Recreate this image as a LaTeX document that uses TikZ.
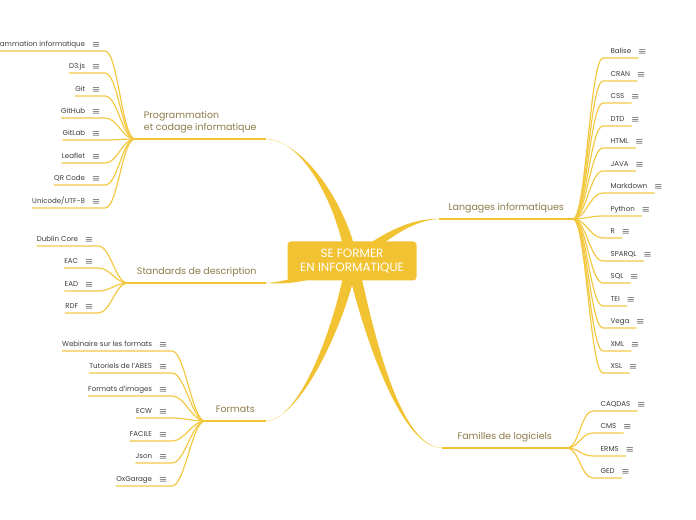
\documentclass[tikz,border=0pt]{standalone}
\usepackage{amsmath}
\usepackage{fontspec}
\setmainfont{Poppins}
\usepackage{xcolor}
\usetikzlibrary{positioning,backgrounds}
\definecolor{mapGold}{HTML}{F1C232}
\definecolor{mapTwig}{HTML}{F3C843}
\definecolor{mapBrown}{HTML}{8C7A48}
\definecolor{mapInk}{HTML}{3C3C3C}
\definecolor{mapIcon}{HTML}{333333}
\newcommand{\noteicon}{\textcolor{mapIcon}{\fontsize{5.5}{6}\selectfont$\boldsymbol{\equiv}$}}

\begin{document}
\begin{tikzpicture}[
  x=0.75pt,y=-0.75pt,
  root/.style={fill=mapGold,rounded corners=2.5pt,text=white,align=center,minimum width=96.75pt,minimum height=29.25pt,font=\fontsize{9}{10.5}\selectfont},
  topic/.style={text=mapBrown,align=left,inner xsep=0pt,inner ysep=4pt,text depth=2pt,font=\fontsize{7.1}{9.5}\selectfont},
  leaf/.style={text=mapInk,inner xsep=0pt,inner ysep=2pt,text height=4pt,text depth=1.2pt,font=\fontsize{5.3}{6}\selectfont},
  twig/.style={draw=mapTwig,line width=0.9pt},
  bough/.style={draw=mapGold,line width=1.2pt}
]
\useasboundingbox (0,0) rectangle (696,520);

\node[root] (root) at (352,261) {SE FORMER\\EN INFORMATIQUE};

% main topics
\node[topic,minimum width=97.5pt,anchor=south west] (prog) at (135,139) {Programmation\\et codage informatique};
\node[topic,minimum width=102.75pt,anchor=south west] (stds) at (128,283) {Standards de description};
\node[topic,minimum width=45pt,anchor=south west] (fmts) at (205,421) {Formats};
\node[topic,minimum width=99.75pt,anchor=south east] (lang) at (573,219) {Langages informatiques};
\node[topic,minimum width=93pt,anchor=south east] (fam) at (567,448) {Familles de logiciels};

\draw[bough] (prog.south west) -- (prog.south east);
\draw[bough] (stds.south west) -- (stds.south east);
\draw[bough] (fmts.south west) -- (fmts.south east);
\draw[bough] (lang.south west) -- (lang.south east);
\draw[bough] (fam.south west) -- (fam.south east);

\begin{scope}[on background layer]
\fill[mapGold] ([xshift=-4.5pt]root.center) .. controls (336,200) and (300,138) .. (prog.south east) .. controls (301,140) and (346,200) .. ([xshift=4.5pt]root.center) -- cycle;
\fill[mapGold] ([xshift=-4.5pt]root.center) .. controls (336,322) and (300,422) .. (fmts.south east) .. controls (301,420) and (346,322) .. ([xshift=4.5pt]root.center) -- cycle;
\fill[mapGold] ([xshift=-4.5pt]root.center) .. controls (362,330) and (400,449) .. (fam.south west) .. controls (399,447) and (373,330) .. ([xshift=4.5pt]root.center) -- cycle;
\fill[mapGold] ([yshift=-4.5pt]root.center) .. controls (385,242) and (410,220) .. (lang.south west) .. controls (411,218) and (385,232) .. ([yshift=4.5pt]root.center) -- cycle;
\fill[mapGold] ([yshift=-4pt]root.center) .. controls (300,285) and (285,284) .. (stds.south east) .. controls (285,282) and (300,277) .. ([yshift=4pt]root.center) -- cycle;
\end{scope}

% programmation
\node[leaf,anchor=south east] (pinfo) at (105,51) {Programmation informatique\hspace*{5.25pt}\noteicon\hspace*{3.5pt}};
\node[leaf,anchor=south east] (d3) at (105,73) {D3.js\hspace*{5.25pt}\noteicon\hspace*{3.5pt}};
\node[leaf,anchor=south east] (git) at (105,96) {Git\hspace*{5.25pt}\noteicon\hspace*{3.5pt}};
\node[leaf,anchor=south east] (github) at (105,118) {GitHub\hspace*{5.25pt}\noteicon\hspace*{3.5pt}};
\node[leaf,anchor=south east] (gitlab) at (105,140) {GitLab\hspace*{5.25pt}\noteicon\hspace*{3.5pt}};
\node[leaf,anchor=south east] (leaflet) at (105,163) {Leaflet\hspace*{5.25pt}\noteicon\hspace*{3.5pt}};
\node[leaf,anchor=south east] (qrcode) at (105,185) {QR Code\hspace*{5.25pt}\noteicon\hspace*{3.5pt}};
\node[leaf,anchor=south east] (unicode) at (105,208) {Unicode/UTF-8\hspace*{5.25pt}\noteicon\hspace*{3.5pt}};
\draw[twig] (prog.south west) .. controls +(-13,0) and +(13,0) .. (pinfo.south east) -- (pinfo.south west);
\draw[twig] (prog.south west) .. controls +(-13,0) and +(13,0) .. (d3.south east) -- (d3.south west);
\draw[twig] (prog.south west) .. controls +(-13,0) and +(13,0) .. (git.south east) -- (git.south west);
\draw[twig] (prog.south west) .. controls +(-13,0) and +(13,0) .. (github.south east) -- (github.south west);
\draw[twig] (prog.south west) .. controls +(-13,0) and +(13,0) .. (gitlab.south east) -- (gitlab.south west);
\draw[twig] (prog.south west) .. controls +(-13,0) and +(13,0) .. (leaflet.south east) -- (leaflet.south west);
\draw[twig] (prog.south west) .. controls +(-13,0) and +(13,0) .. (qrcode.south east) -- (qrcode.south west);
\draw[twig] (prog.south west) .. controls +(-13,0) and +(13,0) .. (unicode.south east) -- (unicode.south west);

% standards
\node[leaf,anchor=south east] (dublin) at (98,246) {Dublin Core\hspace*{5.25pt}\noteicon\hspace*{3.5pt}};
\node[leaf,anchor=south east] (eac) at (98,268) {EAC\hspace*{5.25pt}\noteicon\hspace*{3.5pt}};
\node[leaf,anchor=south east] (ead) at (98,291) {EAD\hspace*{5.25pt}\noteicon\hspace*{3.5pt}};
\node[leaf,anchor=south east] (rdf) at (98,313) {RDF\hspace*{5.25pt}\noteicon\hspace*{3.5pt}};
\draw[twig] (stds.south west) .. controls +(-13,0) and +(13,0) .. (dublin.south east) -- (dublin.south west);
\draw[twig] (stds.south west) .. controls +(-13,0) and +(13,0) .. (eac.south east) -- (eac.south west);
\draw[twig] (stds.south west) .. controls +(-13,0) and +(13,0) .. (ead.south east) -- (ead.south west);
\draw[twig] (stds.south west) .. controls +(-13,0) and +(13,0) .. (rdf.south east) -- (rdf.south west);

% formats
\node[leaf,anchor=south east] (webinaire) at (172,351) {Webinaire sur les formats\hspace*{5.25pt}\noteicon\hspace*{3.5pt}};
\node[leaf,anchor=south east] (tutoriels) at (172,373) {Tutoriels de l'ABES\hspace*{5.25pt}\noteicon\hspace*{3.5pt}};
\node[leaf,anchor=south east] (fimages) at (172,396) {Formats d'images\hspace*{5.25pt}\noteicon\hspace*{3.5pt}};
\node[leaf,anchor=south east] (ecw) at (172,418) {ECW\hspace*{5.25pt}\noteicon\hspace*{3.5pt}};
\node[leaf,anchor=south east] (facile) at (172,441) {FACILE\hspace*{5.25pt}\noteicon\hspace*{3.5pt}};
\node[leaf,anchor=south east] (json) at (172,463) {Json\hspace*{5.25pt}\noteicon\hspace*{3.5pt}};
\node[leaf,anchor=south east] (oxgarage) at (172,486) {OxGarage\hspace*{5.25pt}\noteicon\hspace*{3.5pt}};
\draw[twig] (fmts.south west) .. controls +(-13,0) and +(13,0) .. (webinaire.south east) -- (webinaire.south west);
\draw[twig] (fmts.south west) .. controls +(-13,0) and +(13,0) .. (tutoriels.south east) -- (tutoriels.south west);
\draw[twig] (fmts.south west) .. controls +(-13,0) and +(13,0) .. (fimages.south east) -- (fimages.south west);
\draw[twig] (fmts.south west) .. controls +(-13,0) and +(13,0) .. (ecw.south east) -- (ecw.south west);
\draw[twig] (fmts.south west) .. controls +(-13,0) and +(13,0) .. (facile.south east) -- (facile.south west);
\draw[twig] (fmts.south west) .. controls +(-13,0) and +(13,0) .. (json.south east) -- (json.south west);
\draw[twig] (fmts.south west) .. controls +(-13,0) and +(13,0) .. (oxgarage.south east) -- (oxgarage.south west);

% langages
\node[leaf,anchor=south west] (balise) at (603,58) {\hspace*{5.5pt}Balise\hspace*{5.25pt}\noteicon};
\node[leaf,anchor=south west] (cran) at (603,81) {\hspace*{5.5pt}CRAN\hspace*{5.25pt}\noteicon};
\node[leaf,anchor=south west] (css) at (603,103) {\hspace*{5.5pt}CSS\hspace*{5.25pt}\noteicon};
\node[leaf,anchor=south west] (dtd) at (603,126) {\hspace*{5.5pt}DTD\hspace*{5.25pt}\noteicon};
\node[leaf,anchor=south west] (html) at (603,148) {\hspace*{5.5pt}HTML\hspace*{5.25pt}\noteicon};
\node[leaf,anchor=south west] (java) at (603,171) {\hspace*{5.5pt}JAVA\hspace*{5.25pt}\noteicon};
\node[leaf,anchor=south west] (markdown) at (603,193) {\hspace*{5.5pt}Markdown\hspace*{5.25pt}\noteicon};
\node[leaf,anchor=south west] (python) at (603,216) {\hspace*{5.5pt}Python\hspace*{5.25pt}\noteicon};
\node[leaf,anchor=south west] (rlang) at (603,238) {\hspace*{5.5pt}R\hspace*{5.25pt}\noteicon};
\node[leaf,anchor=south west] (sparql) at (603,261) {\hspace*{5.5pt}SPARQL\hspace*{5.25pt}\noteicon};
\node[leaf,anchor=south west] (sql) at (603,283) {\hspace*{5.5pt}SQL\hspace*{5.25pt}\noteicon};
\node[leaf,anchor=south west] (tei) at (603,306) {\hspace*{5.5pt}TEI\hspace*{5.25pt}\noteicon};
\node[leaf,anchor=south west] (vega) at (603,328) {\hspace*{5.5pt}Vega\hspace*{5.25pt}\noteicon};
\node[leaf,anchor=south west] (xml) at (603,351) {\hspace*{5.5pt}XML\hspace*{5.25pt}\noteicon};
\node[leaf,anchor=south west] (xsl) at (603,373) {\hspace*{5.5pt}XSL\hspace*{5.25pt}\noteicon};
\draw[twig] (lang.south east) .. controls +(13,0) and +(-13,0) .. (balise.south west) -- ([xshift=-6pt]balise.south east);
\draw[twig] (lang.south east) .. controls +(13,0) and +(-13,0) .. (cran.south west) -- ([xshift=-6pt]cran.south east);
\draw[twig] (lang.south east) .. controls +(13,0) and +(-13,0) .. (css.south west) -- ([xshift=-6pt]css.south east);
\draw[twig] (lang.south east) .. controls +(13,0) and +(-13,0) .. (dtd.south west) -- ([xshift=-6pt]dtd.south east);
\draw[twig] (lang.south east) .. controls +(13,0) and +(-13,0) .. (html.south west) -- ([xshift=-6pt]html.south east);
\draw[twig] (lang.south east) .. controls +(13,0) and +(-13,0) .. (java.south west) -- ([xshift=-6pt]java.south east);
\draw[twig] (lang.south east) .. controls +(13,0) and +(-13,0) .. (markdown.south west) -- ([xshift=-6pt]markdown.south east);
\draw[twig] (lang.south east) .. controls +(13,0) and +(-13,0) .. (python.south west) -- ([xshift=-6pt]python.south east);
\draw[twig] (lang.south east) .. controls +(13,0) and +(-13,0) .. (rlang.south west) -- ([xshift=-6pt]rlang.south east);
\draw[twig] (lang.south east) .. controls +(13,0) and +(-13,0) .. (sparql.south west) -- ([xshift=-6pt]sparql.south east);
\draw[twig] (lang.south east) .. controls +(13,0) and +(-13,0) .. (sql.south west) -- ([xshift=-6pt]sql.south east);
\draw[twig] (lang.south east) .. controls +(13,0) and +(-13,0) .. (tei.south west) -- ([xshift=-6pt]tei.south east);
\draw[twig] (lang.south east) .. controls +(13,0) and +(-13,0) .. (vega.south west) -- ([xshift=-6pt]vega.south east);
\draw[twig] (lang.south east) .. controls +(13,0) and +(-13,0) .. (xml.south west) -- ([xshift=-6pt]xml.south east);
\draw[twig] (lang.south east) .. controls +(13,0) and +(-13,0) .. (xsl.south west) -- ([xshift=-6pt]xsl.south east);

% familles
\node[leaf,anchor=south west] (caqdas) at (593,411) {\hspace*{5.5pt}CAQDAS\hspace*{5.25pt}\noteicon};
\node[leaf,anchor=south west] (cms) at (593,433) {\hspace*{5.5pt}CMS\hspace*{5.25pt}\noteicon};
\node[leaf,anchor=south west] (erms) at (593,456) {\hspace*{5.5pt}ERMS\hspace*{5.25pt}\noteicon};
\node[leaf,anchor=south west] (ged) at (593,478) {\hspace*{5.5pt}GED\hspace*{5.25pt}\noteicon};
\draw[twig] (fam.south east) .. controls +(12,0) and +(-12,0) .. (caqdas.south west) -- ([xshift=-6pt]caqdas.south east);
\draw[twig] (fam.south east) .. controls +(12,0) and +(-12,0) .. (cms.south west) -- ([xshift=-6pt]cms.south east);
\draw[twig] (fam.south east) .. controls +(12,0) and +(-12,0) .. (erms.south west) -- ([xshift=-6pt]erms.south east);
\draw[twig] (fam.south east) .. controls +(12,0) and +(-12,0) .. (ged.south west) -- ([xshift=-6pt]ged.south east);
\end{tikzpicture}
\end{document}
